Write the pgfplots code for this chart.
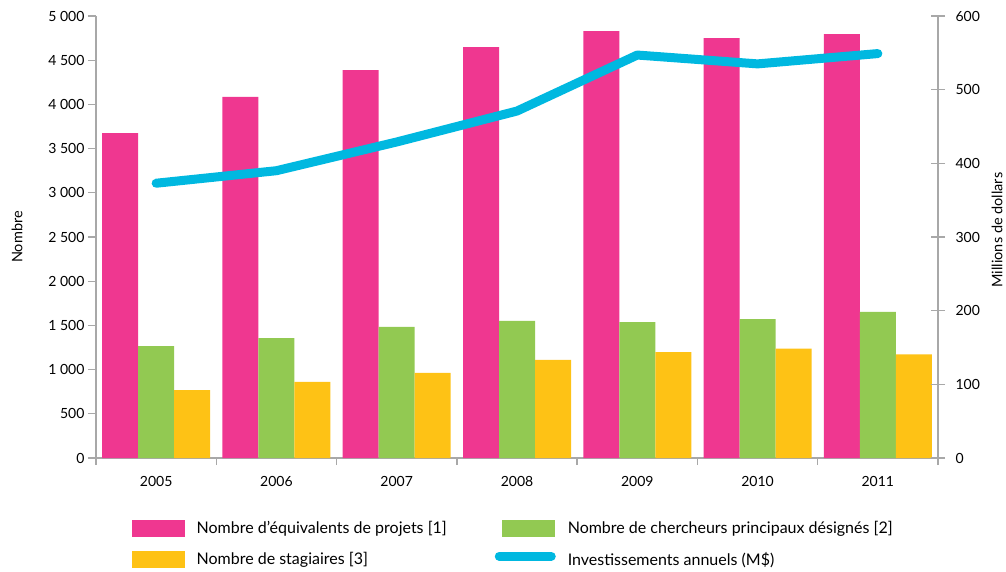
\documentclass[border=0pt]{standalone}
\usepackage{pgfplots}
\pgfplotsset{compat=1.18}
\usepackage{fontspec}
\setmainfont{Lato}

\definecolor{rose}{HTML}{EF3790}
\definecolor{vert}{HTML}{92C952}
\definecolor{jaune}{HTML}{FEC215}
\definecolor{bleu}{HTML}{00B8E0}
\definecolor{axe}{HTML}{A8A8A8}

\pgfplotsset{
  commun/.style={
    width=842pt, height=442pt, scale only axis,
    xmin=-0.5, xmax=6.5,
    axis line style={draw=axe, line width=1.3pt, -},
    tick label style={font=\fontsize{14}{16}\selectfont, text=black},
    /pgf/number format/assume math mode=true,
    /pgf/number format/1000 sep={\ },
    scaled y ticks=false,
  },
}

\begin{document}
\begin{tikzpicture}
  % barres : echelle de gauche
  \begin{axis}[
      commun, name=main,
      ymin=0, ymax=5000,
      ybar=0pt, bar width=36pt,
      axis x line*=bottom, axis y line*=left,
      xtick={0,1,2,3,4,5,6},
      xticklabels={2005,2006,2007,2008,2009,2010,2011},
      xticklabel style={yshift=-7pt},
      major x tick style={draw=none},
      minor xtick={-0.5,0.5,...,6.5},
      minor x tick style={draw=axe, line width=1.3pt},
      ytick={0,500,...,5000},
      y tick style={draw=axe, line width=1.3pt},
      tick align=outside,
      major tick length=8pt, minor tick length=7pt,
      ylabel={Nombre},
      ylabel style={at={([xshift=-79pt]rel axis cs:0,0.5)}, anchor=center,
        font=\fontsize{14.5}{17}\selectfont},
    ]
    \addplot[fill=rose, draw=none] coordinates {(0,3676) (1,4084) (2,4389) (3,4649) (4,4830) (5,4751) (6,4796)};
    \addplot[fill=vert, draw=none] coordinates {(0,1267) (1,1357) (2,1482) (3,1550) (4,1538) (5,1572) (6,1652)};
    \addplot[fill=jaune, draw=none] coordinates {(0,769) (1,860) (2,962) (3,1109) (4,1199) (5,1237) (6,1173)};
  \end{axis}

  % investissements : echelle de droite
  \begin{axis}[
      commun,
      ymin=0, ymax=600,
      axis x line=none, axis y line*=right,
      ytick={0,100,...,600},
      yticklabel style={xshift=7pt},
      y tick style={draw=axe, line width=1.3pt},
      tick align=center, major tick length=14pt,
      ylabel={Millions de dollars},
      ylabel style={at={([xshift=59pt,yshift=7pt]rel axis cs:1,0.5)}, anchor=center,
        font=\fontsize{14.5}{17}\selectfont},
      legend columns=2,
      legend cell align=left,
      legend style={draw=none, fill=none, at={(rel axis cs:0,0)}, anchor=north west,
        xshift=33pt, yshift=-59pt, font=\fontsize{16}{19}\selectfont,
        row sep=13pt,
        /tikz/every odd column/.append style={column sep=10pt},
        /tikz/every even column/.append style={column sep=46pt},
        /tikz/column 3/.append style={column sep=12pt}},
    ]
    \addlegendimage{legend image code/.code={\fill[rose] (0pt,-8pt) rectangle (52pt,8pt);}}
    \addlegendentry{Nombre d’équivalents de projets [1]}
    \addlegendimage{legend image code/.code={\fill[vert] (0pt,-8pt) rectangle (52pt,8pt);}}
    \addlegendentry{Nombre de chercheurs principaux désignés [2]}
    \addlegendimage{legend image code/.code={\fill[jaune] (0pt,-8pt) rectangle (52pt,8pt);}}
    \addlegendentry{Nombre de stagiaires [3]}
    \addplot[bleu, line width=9pt, line cap=round, line join=round,
      legend image code/.code={\draw[bleu, line width=9pt, line cap=round] (-3pt,3pt) -- (49pt,3pt);}]
      coordinates {(0,373) (1,390) (2,429) (3,471) (4,547) (5,535) (6,549)};
    \addlegendentry{Investissements annuels (M\$)}
  \end{axis}

  \pgfresetboundingbox
  \path (main.south west) ++(-96pt,-113pt) rectangle ++(1006pt,571pt);
\end{tikzpicture}
\end{document}
